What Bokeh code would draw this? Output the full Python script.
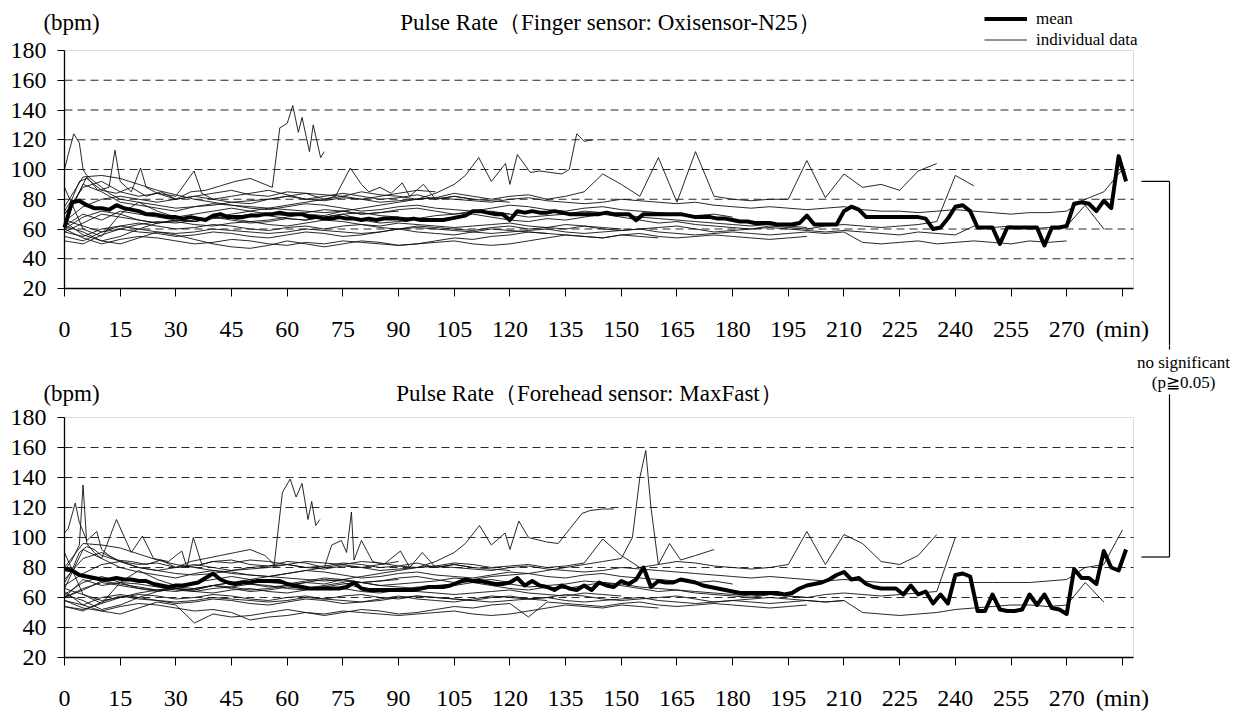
import numpy as np
from bokeh.plotting import figure
from bokeh.layouts import column
from bokeh.models import (Range1d, FixedTicker, Legend, LegendItem, Label, Arrow,
                          LinearAxis, BoxAnnotation)
from bokeh.embed import file_html
from bokeh.resources import INLINE

# ---------------------------------------------------------------- data
X_TICKS = list(range(0, 286, 15))
X_TICK_LABELS = [str(t) for t in range(0, 271, 15)] + ["(min)"]
Y_TICKS = list(range(20, 181, 20))
GRID_LEVELS = list(range(40, 161, 20))

TITLE_TOP = "Pulse Rate（Finger sensor: Oxisensor-N25）"
TITLE_BOTTOM = "Pulse Rate（Forehead sensor: MaxFast）"
UNIT_LABEL = "(bpm)"
NOTE_LINES = ["no significant", "(p≧0.05)"]
BRACKET_BPM = (92, 87)          # bracket ends

MEAN_STEP = 2                   # minutes between mean samples
STEP = 5                        # minutes between individual samples

FINGER_MEAN = [61, 78, 79, 76, 74, 74, 73, 76, 74, 73, 72, 70, 70, 69, 68, 68, 67, 68, 67, 66,
               69, 70, 68, 68, 68, 69, 69, 70, 70, 71, 70, 70, 70, 68, 68, 67, 67, 68, 67, 67,
               66, 67, 66, 67, 67, 67, 66, 67, 66, 66, 66, 66, 67, 68, 69, 72, 72, 71, 70, 70,
               66, 72, 71, 72, 71, 71, 72, 71, 70, 70, 70, 70, 70, 71, 70, 70, 70, 66, 70, 70,
               70, 70, 70, 70, 69, 68, 68, 68, 67, 67, 66, 65, 65, 64, 64, 64, 63, 63, 63, 64,
               69, 63, 63, 63, 63, 72, 75, 73, 68, 68, 68, 68, 68, 68, 68, 68, 67, 60, 61, 67,
               75, 76, 72, 61, 61, 61, 50, 61, 61, 61, 61, 61, 49, 61, 61, 62, 77, 78, 77, 72,
               79, 74, 109, 92]

FOREHEAD_MEAN = [79, 78, 75, 74, 73, 72, 72, 73, 72, 72, 71, 71, 69, 68, 67, 68, 68, 69, 70, 73,
                 76, 72, 70, 69, 70, 70, 71, 71, 71, 71, 69, 68, 67, 66, 66, 66, 66, 66, 67, 70,
                 66, 65, 65, 65, 65, 65, 65, 65, 66, 67, 67, 67, 68, 70, 72, 71, 71, 70, 69, 69,
                 70, 73, 68, 71, 68, 67, 65, 68, 66, 65, 68, 65, 70, 68, 67, 71, 69, 72, 80, 67,
                 71, 70, 70, 72, 71, 70, 68, 67, 66, 65, 64, 63, 63, 63, 63, 63, 63, 62, 63, 66,
                 68, 69, 70, 72, 75, 77, 72, 73, 69, 67, 66, 66, 66, 62, 68, 62, 64, 56, 62, 56,
                 75, 76, 74, 51, 51, 62, 52, 51, 51, 52, 62, 55, 62, 53, 52, 49, 79, 73, 73, 69,
                 91, 80, 78, 92]

# ---- finger sensor, individual subjects (explicit minutes where spiky)
F01_T = [0, 2, 4, 6, 8, 10, 14, 18, 22, 26, 30, 34, 38, 42, 46, 50, 54, 56, 58, 60, 61.5, 63, 64, 66, 67, 69, 70]
F01_V = [72, 80, 92, 94, 90, 86, 84, 88, 82, 85, 80, 85, 86, 89, 92, 94, 90, 88, 128, 131, 143, 125, 135, 112, 130, 108, 112]
F02_T = [0, 1, 2.5, 4, 5, 6, 8, 10, 12, 15, 20, 25, 30, 35, 40, 45, 50, 55, 60, 65, 70, 75, 80, 85, 90, 95, 100]
F02_V = [100, 110, 124, 118, 100, 96, 92, 88, 84, 80, 78, 76, 74, 75, 76, 78, 77, 80, 82, 84, 83, 82, 80, 82, 84, 86, 85]
F03_T = [0, 3, 6, 9, 12, 13.6, 15, 18, 20.5, 22, 25, 30, 34.9, 37, 40, 45, 50, 55, 60, 65, 70, 75, 80, 85, 90, 95, 100, 105, 110, 115, 120]
F03_V = [70, 80, 95, 86, 88, 113, 92, 85, 101, 88, 84, 82, 99, 84, 80, 82, 84, 86, 83, 80, 82, 84, 82, 80, 81, 83, 80, 82, 80, 79, 78]
F04_T = [0, 5, 10, 15, 20, 25, 30, 35, 40, 45, 50, 55, 60, 65, 70, 73, 77, 80, 82, 85, 88, 91, 93, 96.7, 100, 105, 110]
F04_V = [62, 58, 52, 55, 60, 64, 66, 65, 68, 70, 72, 74, 76, 78, 80, 82, 101, 90, 85, 88, 84, 91, 82, 90, 80, 82, 80]
F13_T = [0, 5, 10, 15, 20, 25, 30, 35, 40, 45, 50, 55, 60, 65, 70, 75, 80, 85, 90, 95, 100, 105,
         108, 111.6, 115, 118.8, 120, 122, 125.5, 128, 131, 134, 136, 138, 140, 142.5]
F13_V = [66, 62, 58, 60, 63, 65, 64, 66, 68, 67, 65, 66, 68, 70, 69, 72, 74, 76, 78, 80, 84, 90,
         96, 108, 92, 104, 90, 110, 98, 99, 98, 97, 100, 124, 119, 120]
# ---- finger sensor, sampled every STEP minutes from 0
F05 = [70, 88, 92, 85, 82, 84, 80, 82, 84, 86, 83, 82, 85, 84, 80, 82, 85, 83, 82, 80, 81, 84, 82, 80, 82, 83, 80, 82, 85,
       97, 90, 82, 108, 78, 112, 82, 80, 79, 80, 80, 106, 81, 97, 88, 90, 86, 99, 104]
F06 = [60, 68, 72, 70, 66, 64, 66, 65, 68, 66, 64, 65, 67, 66, 68, 70, 66, 64, 65, 67, 66, 68, 70, 68, 66,
       65, 67, 66, 68, 70, 68, 66, 64, 65, 63, 62, 61, 60, 62, 61, 60, 62, 63, 62, 61, 62, 63, 65, 96, 89]
F07 = [65, 75, 80, 82, 80, 78, 80, 82, 80, 78, 79, 80, 82, 80, 79, 81, 80, 78, 79, 80, 81, 80, 79, 78, 80, 81, 79, 78, 77,
       78, 80, 79, 78, 77, 78, 76, 75, 74, 75, 74, 73, 74, 75, 73, 72, 72, 71, 72, 73, 72, 71, 70, 71, 71, 72, 80, 85, 100]
F08 = [58, 55, 60, 62, 60, 58, 57, 58, 60, 59, 58, 57, 58, 60, 59, 58, 57, 58, 60, 61, 60, 59, 58, 57, 58, 59, 60, 58,
       57, 58, 59, 60, 58, 57, 56, 57, 58, 57, 56, 57, 58, 57, 58, 51, 50, 51, 52, 50, 51, 52, 51, 50, 52, 51, 52]
F09 = [55, 52, 58, 62, 64, 62, 60, 61, 63, 62, 60, 59, 61, 62, 60, 62, 63, 61, 60, 62, 61, 60, 59, 61, 62, 60, 61, 63, 62,
       60, 59, 60, 61, 62, 60, 58, 59, 60, 61, 60, 59, 58, 59, 58, 57, 56, 58, 57, 56, 62, 61, 62, 60, 61, 62, 76, 60]
F10 = [62, 70, 66, 72, 70, 68, 66, 65, 67, 68, 70, 69, 67, 66, 68, 70, 71, 69, 68, 67, 69, 70, 72, 71, 70, 68, 69, 70,
       72, 71, 70, 68, 67, 66, 65, 64, 63, 62, 63, 62, 61]
F11 = [64, 90, 85, 78, 76, 74, 72, 75, 77, 76, 74, 73, 75, 77, 76, 74, 72, 73, 75, 76, 74, 73, 72, 74, 76, 75, 73, 72,
       74, 75, 73, 72, 71, 70, 69, 70, 68]
F12 = [60, 54, 50, 53, 55, 54, 52, 50, 51, 53, 52, 50, 49, 51, 50, 52, 51, 50, 49, 50, 51, 52, 50, 49, 50, 52, 54, 56,
       55, 54, 56, 55, 54]
F14 = [52, 50, 56, 60, 58, 57, 55, 56, 58, 57, 55, 54, 56, 58, 57, 55, 56, 58, 60, 58, 57, 56, 58, 60, 59, 58, 57]
F15 = [75, 95, 96, 94, 90, 86, 83, 80, 78, 76, 75, 74, 73, 72, 71, 72, 70, 71, 72]
F16 = [58, 64, 70, 68, 66, 64, 65, 63, 62, 64, 65, 63, 62, 64, 66, 65, 63, 62, 64, 63, 62, 61, 62, 63, 64, 62, 61, 60,
       62, 61, 60]
F17 = [65, 56, 52, 50, 54, 58, 56, 53, 50, 48, 47, 49, 52, 50, 48, 50, 52, 51, 49, 50, 52, 54, 53, 55, 56, 58, 57, 56,
       55, 54, 56, 57, 55, 54, 55, 56, 55, 54, 53, 54, 55]
F18 = [88, 60, 55, 70, 78, 72, 68, 70, 72, 74, 72, 70, 69, 71, 73, 72, 70, 71, 73, 74, 72, 70, 71, 72, 70]

# ---- forehead sensor, individual subjects
M01_T = [0, 2, 4, 6, 8, 10, 14, 18, 22, 26, 30, 34, 38, 42, 46, 50, 54, 56.5, 58.7, 60.8, 62.4, 64, 65.6, 66.6, 67.7, 68.8]
M01_V = [70, 78, 90, 94, 92, 88, 85, 84, 82, 85, 80, 84, 86, 88, 90, 92, 88, 82, 130, 139, 127, 136, 112, 124, 108, 112]
M02_T = [0, 1, 2.9, 4, 6, 8.7, 10, 12, 15, 20, 25, 30, 35, 40, 45, 50, 55, 60, 65, 70, 75, 80, 85, 90]
M02_V = [103, 106, 123, 110, 98, 104, 92, 88, 84, 80, 78, 76, 75, 76, 78, 80, 81, 82, 84, 83, 82, 80, 82, 84]
M03_T = [0, 2, 4, 5, 6, 8, 10, 14, 18, 21, 24, 28, 31.6, 33, 34.7, 37, 40, 45, 50, 55, 60, 65, 70, 75, 80, 85, 90,
         95, 100, 105, 110, 115, 120]
M03_V = [78, 85, 95, 135, 96, 90, 86, 112, 90, 101, 86, 84, 91, 80, 100, 82, 84, 83, 85, 84, 82, 80, 81, 83, 82, 80, 81,
         83, 80, 82, 80, 79, 78]
M04_T = [0, 5, 10, 15, 20, 25, 30, 35, 40, 45, 50, 55, 60, 65, 70, 72, 74.6, 76, 77.3, 78, 80, 83, 86, 90.5, 93, 96.4,
         100, 105, 110]
M04_V = [62, 58, 52, 55, 60, 64, 66, 65, 68, 70, 72, 74, 76, 78, 80, 95, 98, 90, 117, 85, 98, 84, 82, 91, 80, 90,
         80, 82, 80]
M06_T = [0, 5, 10, 15, 20, 25, 30, 35, 40, 45, 50, 55, 60, 65, 70, 75, 80, 85, 90, 95, 100, 105, 110, 115, 120, 125,
         130, 135, 140, 145, 150, 153, 155, 156.6, 158, 160, 163, 166, 170, 175]
M06_V = [60, 66, 70, 68, 66, 65, 67, 66, 68, 70, 69, 67, 68, 70, 72, 71, 70, 68, 69, 70, 71, 73, 72, 74, 75, 76,
         78, 80, 82, 84, 86, 100, 140, 158, 120, 82, 96, 85, 88, 92]
M07_T = [0, 5, 10, 15, 20, 25, 30, 35, 40, 45, 50, 55, 60, 65, 70, 75, 80, 85, 90, 95, 100, 105,
         108, 111.8, 115, 118.7, 120, 122.4, 125, 129.9, 133, 136.2, 139.4, 141.6, 145, 148]
M07_V = [66, 62, 58, 60, 63, 65, 64, 66, 68, 67, 65, 66, 68, 70, 69, 72, 74, 76, 78, 80, 84, 90,
         96, 108, 95, 103, 92, 111, 100, 97, 96, 106, 116, 118, 119, 119]
M05 = [72, 86, 90, 84, 82, 83, 80, 81, 84, 85, 82, 81, 84, 83, 80, 82, 84, 83, 81, 80, 81, 83, 82, 80, 81, 82, 80, 81,
       83, 99, 88, 80, 82, 84, 83, 81, 80, 79, 80, 82, 104, 82, 102, 96, 84, 82, 88, 102]
M08 = [62, 70, 74, 70, 66, 64, 66, 65, 68, 66, 64, 65, 67, 66, 68, 70, 66, 64, 65, 67, 66, 68, 70, 68, 66, 65, 67, 66,
       68, 70, 68, 66, 64, 65, 63, 62, 61, 60, 62, 61, 60, 62, 63, 62, 61, 62, 63, 64, 100]
M09 = [68, 76, 82, 84, 80, 78, 80, 82, 80, 78, 79, 80, 82, 80, 79, 81, 80, 78, 79, 80, 81, 80, 79, 78, 80, 81, 79, 78,
       77, 78, 80, 79, 78, 77, 76, 75, 74, 73, 74, 73, 72, 71, 72, 71, 70, 70, 70, 70, 70, 70, 70, 70, 70, 71, 72, 80,
       82, 105]
M10 = [58, 55, 60, 62, 60, 58, 57, 58, 60, 59, 58, 57, 58, 60, 59, 58, 57, 58, 60, 61, 60, 59, 58, 57, 58, 59, 60, 58,
       57, 58, 59, 60, 58, 57, 56, 57, 58, 57, 56, 57, 58, 57, 58, 50, 49, 48, 49, 50, 52, 53, 54, 55, 55, 54, 55, 70, 57]
M11 = [54, 52, 56, 60, 62, 61, 59, 60, 62, 61, 59, 58, 60, 61, 59, 61, 62, 60, 59, 61, 60, 59, 58, 60, 61, 59, 60, 62,
       61, 59, 58, 59, 60, 61, 59, 57, 58, 59, 60, 59, 58, 57, 58]
M12 = [60, 72, 68, 70, 69, 67, 65, 64, 66, 67, 69, 68, 66, 65, 67, 69, 70, 68, 67, 66, 68, 69, 71, 70, 69, 67, 68, 69,
       71, 70, 69, 67, 66, 65, 64, 63, 62, 61, 62, 61, 60]
M13 = [66, 92, 86, 80, 77, 75, 73, 76, 78, 77, 75, 74, 76, 78, 77, 75, 73, 74, 76, 77, 75, 74, 73, 75, 77, 76, 74, 73,
       75, 76, 74, 73, 72, 71, 70, 71, 69]
M14 = [58, 53, 51, 54, 56, 55, 53, 51, 52, 50, 45, 47, 48, 50, 49, 51, 50, 49, 48, 49, 50, 51, 49, 48, 49, 51, 53, 55,
       54, 53, 55, 54, 53]
M15 = [54, 51, 57, 61, 59, 58, 56, 57, 59, 58, 56, 55, 57, 59, 58, 56, 57, 59, 61, 59, 58, 57, 59, 61, 60, 59, 58]
M16 = [80, 96, 95, 93, 89, 85, 82, 80, 78, 76, 75, 74, 73, 72, 71, 72, 70, 71, 72]
M17 = [60, 65, 71, 69, 67, 65, 66, 64, 63, 65, 66, 64, 63, 65, 67, 66, 64, 63, 65, 64, 63, 62, 63, 64, 65, 63, 62, 61,
       63, 62, 61]
M18 = [64, 55, 51, 49, 53, 57, 55, 43, 49, 47, 48, 50, 52, 50, 48, 50, 52, 51, 49, 50, 52, 54, 53, 55, 56, 47, 57, 56,
       55, 54, 56, 57, 55, 54, 55, 56, 55, 54, 53, 54, 55]
M19 = [90, 62, 56, 70, 78, 72, 68, 70, 72, 74, 72, 70, 69, 71, 73, 72, 70, 71, 73, 74, 72, 70, 71, 72, 70]

FINGER_TIMED = [(F01_T, F01_V), (F02_T, F02_V), (F03_T, F03_V), (F04_T, F04_V), (F13_T, F13_V)]
FINGER_STEPPED = [F05, F06, F07, F08, F09, F10, F11, F12, F14, F15, F16, F17, F18]
FOREHEAD_TIMED = [(M01_T, M01_V), (M02_T, M02_V), (M03_T, M03_V), (M04_T, M04_V), (M06_T, M06_V), (M07_T, M07_V)]
FOREHEAD_STEPPED = [M05, M08, M09, M10, M11, M12, M13, M14, M15, M16, M17, M18, M19]

# ---------------------------------------------------------------- layout / style
FONT = "Liberation Serif"
INK = "black"
X_MAX = 288
PAGE_W = 1240
CHART_LEFT = 64          # canvas x of the value axis
FRAME_W = 1069           # width of the chart box in px
PPM = FRAME_W / X_MAX    # px per minute


def px_x(px):
    """canvas x pixel -> minutes"""
    return (px - CHART_LEFT) / PPM


def make_panel(canvas_h, frame_top, frame_h, title, title_cx, text_cy, mean, timed, stepped):
    ppb = frame_h / 160.0

    def py(y_px):
        return 180 - (y_px - frame_top) / ppb

    p = figure(width=PAGE_W, height=canvas_h,
               x_range=Range1d(px_x(0), px_x(PAGE_W)),
               y_range=Range1d(py(canvas_h), py(0)),
               x_axis_type=None, y_axis_type=None, min_border=0,
               output_backend="svg", toolbar_location=None)
    p.outline_line_color = None
    p.background_fill_color = "white"
    p.border_fill_color = "white"

    # chart box (top / right border) and dashed grid
    p.add_layout(BoxAnnotation(left=0, right=X_MAX, bottom=20, top=180, fill_alpha=0,
                               line_color="#8c8c8c", line_width=1, level="underlay"))
    n = len(GRID_LEVELS)
    p.segment(x0=[0] * n, x1=[X_MAX] * n, y0=GRID_LEVELS, y1=GRID_LEVELS,
              line_color="#2a2a2a", line_dash="8 5", line_width=1, level="underlay")

    yax = LinearAxis(fixed_location=0, bounds=(20, 180), ticker=FixedTicker(ticks=Y_TICKS))
    xax = LinearAxis(fixed_location=20, bounds=(0, X_MAX), ticker=FixedTicker(ticks=X_TICKS),
                     major_label_overrides={t: lab for t, lab in zip(X_TICKS, X_TICK_LABELS)})
    for ax in (xax, yax):
        ax.axis_line_color = INK
        ax.axis_line_width = 1.3
        ax.major_tick_line_color = INK
        ax.minor_tick_line_color = None
        ax.major_tick_in = 0
        ax.major_label_text_font = FONT
        ax.major_label_text_font_size = "24px"
        ax.major_label_text_color = INK
    xax.major_tick_out = 8
    xax.major_label_standoff = 19
    yax.major_tick_out = 7
    yax.major_label_standoff = 11
    p.add_layout(yax, "left")
    p.add_layout(xax, "below")

    first = None
    for t, v in timed:
        r = p.line(t, v, line_color="#111111", line_width=0.9)
        first = first or r
    for v in stepped:
        p.line(np.arange(len(v)) * STEP, v, line_color="#111111", line_width=0.9)
    mean_r = p.line(np.arange(len(mean)) * MEAN_STEP, mean, line_color=INK,
                    line_width=4, line_join="round")

    p.add_layout(Label(x=px_x(71), y=py(text_cy), text=UNIT_LABEL, text_font=FONT,
                       text_font_size="23px", text_color=INK,
                       text_align="center", text_baseline="middle"))
    p.add_layout(Label(x=px_x(title_cx), y=py(text_cy), text=title, text_font=FONT,
                       text_font_size="23px", text_color=INK,
                       text_align="center", text_baseline="middle"))
    return p, py, mean_r, first


TOP_CANVAS_H = 345
BOT_CANVAS_H = 714 - TOP_CANVAS_H

p1, py1, mean1, first1 = make_panel(TOP_CANVAS_H, 50, 238, TITLE_TOP, 610, 22,
                                    FINGER_MEAN, FINGER_TIMED, FINGER_STEPPED)
p2, py2, _, _ = make_panel(BOT_CANVAS_H, 72, 240, TITLE_BOTTOM, 589, 48,
                           FOREHEAD_MEAN, FOREHEAD_TIMED, FOREHEAD_STEPPED)

legend = Legend(items=[LegendItem(label="mean", renderers=[mean1]),
                       LegendItem(label="individual data", renderers=[first1])],
                location=(984, TOP_CANVAS_H - 50), orientation="vertical",
                label_text_font=FONT, label_text_font_size="17px", label_text_color=INK,
                glyph_width=43, glyph_height=21, label_height=21, label_standoff=9,
                spacing=0, padding=0, margin=0,
                border_line_color=None, background_fill_alpha=0)
p1.add_layout(legend)

# significance bracket linking the final means of the two panels
xa, xb, xt = px_x(1141), px_x(1169), px_x(1183)
kw = dict(end=None, line_color=INK, line_width=1.2)
p1.add_layout(Arrow(x_start=xa, y_start=BRACKET_BPM[0], x_end=xb, y_end=BRACKET_BPM[0], **kw))
p1.add_layout(Arrow(x_start=xb, y_start=BRACKET_BPM[0], x_end=xb, y_end=py1(TOP_CANVAS_H + 5), **kw))
p2.add_layout(Arrow(x_start=xb, y_start=py2(-5), x_end=xb, y_end=py2(4), **kw))
p2.add_layout(Arrow(x_start=xb, y_start=py2(49), x_end=xb, y_end=BRACKET_BPM[1], **kw))
p2.add_layout(Arrow(x_start=xb, y_start=BRACKET_BPM[1], x_end=xa, y_end=BRACKET_BPM[1], **kw))
p2.add_layout(Label(x=xt, y=py2(17), text=NOTE_LINES[0], text_font=FONT, text_color=INK,
                    text_font_size="17px", text_align="center", text_baseline="middle"))
p2.add_layout(Label(x=xt, y=py2(37), text=NOTE_LINES[1], text_font=FONT, text_color=INK,
                    text_font_size="17px", text_align="center", text_baseline="middle"))

layout = column(p1, p2, spacing=0)
open("out.html", "w").write(file_html(layout, INLINE))
